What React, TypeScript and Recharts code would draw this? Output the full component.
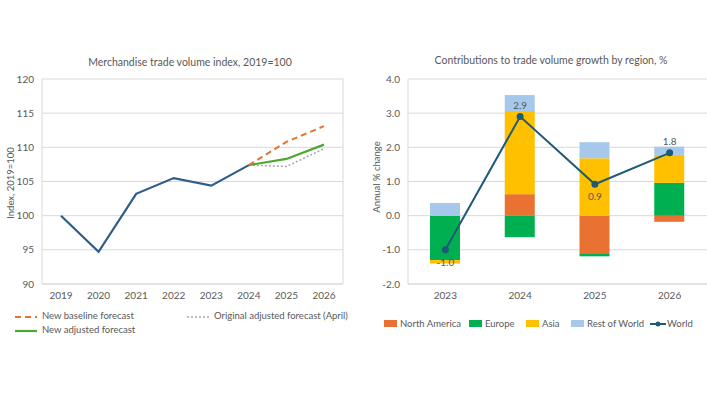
import {
	Bar,
	CartesianGrid,
	ComposedChart,
	LabelList,
	Line,
	LineChart,
	XAxis,
	YAxis,
} from "recharts";

// left panel: merchandise trade volume index
const years = ["2019", "2020", "2021", "2022", "2023", "2024", "2025", "2026"];
const actual = [100, 94.7, 103.2, 105.5, 104.4, 107.4, null, null];
const baseline = [null, null, null, null, null, 107.4, 110.8, 113.1];
const originalAdjusted = [null, null, null, null, null, 107.4, 107.2, 109.8];
const newAdjusted = [null, null, null, null, null, 107.4, 108.3, 110.4];
const indexTicks = [90, 95, 100, 105, 110, 115, 120];

// right panel: contributions by region
const regionYears = ["2023", "2024", "2025", "2026"];
const northAmerica = [0, 0.63, -1.12, -0.18];
const europe = [-1.3, -0.63, -0.07, 0.96];
const asia = [-0.1, 2.43, 1.68, 0.82];
const restOfWorld = [0.37, 0.47, 0.47, 0.24];
const world = [-1.0, 2.9, 0.92, 1.84];
const growthTicks = [-2, -1, 0, 1, 2, 3, 4];

const FONT = "Lato, 'Open Sans', sans-serif";
const TEXT = "#595959";
const GRID = "#d9d9d9";

const indexData = years.map((y, i) => ({
	year: y,
	actual: actual[i],
	baseline: baseline[i],
	originalAdjusted: originalAdjusted[i],
	newAdjusted: newAdjusted[i],
}));

const regionData = regionYears.map((y, i) => ({
	year: y,
	northAmerica: northAmerica[i],
	europe: europe[i],
	asia: asia[i],
	restOfWorld: restOfWorld[i],
	world: world[i],
}));

const tick = { fill: TEXT, fontSize: 10, fontFamily: FONT };

// label above local peaks, below valleys
function WorldLabel(props: any) {
	const { x, y, index } = props;
	const v = world[index];
	const prev = index > 0 ? world[index - 1] : null;
	const next = index < world.length - 1 ? world[index + 1] : null;
	const above =
		(prev === null || v >= prev) && (next === null || v >= next);
	return (
		<text
			x={x}
			y={above ? y - 8 : y + 16}
			textAnchor="middle"
			fill={TEXT}
			fontSize={10}
			fontFamily={FONT}
		>
			{v.toFixed(1)}
		</text>
	);
}

function Swatch({ color }: { color: string }) {
	return (
		<span
			style={{
				display: "inline-block",
				width: 13,
				height: 7,
				background: color,
				marginRight: 3,
			}}
		/>
	);
}

function LineKey({ color, dash, width }: { color: string; dash?: string; width: number }) {
	return (
		<svg width={24} height={8} style={{ marginRight: 4, verticalAlign: "middle" }}>
			<line x1={1} y1={4} x2={23} y2={4} stroke={color} strokeWidth={width} strokeDasharray={dash} />
		</svg>
	);
}

export default function App() {
	const legendText = { fontSize: 9.5, color: TEXT, fontFamily: FONT, whiteSpace: "nowrap" as const };
	return (
		<div
			style={{
				position: "absolute",
				left: 0,
				top: 0,
				width: 707,
				height: 398,
				background: "#fff",
				fontFamily: FONT,
			}}
		>
			{/* left chart */}
			<div style={{ position: "absolute", left: 0, top: 56, width: 355, textAlign: "center", ...legendText, fontSize: 10.5, paddingLeft: 25, boxSizing: "border-box" }}>
				Merchandise trade volume index, 2019=100
			</div>
			<div style={{ position: "absolute", left: 10, top: 183, ...legendText, fontSize: 9.5, transform: "translate(-50%,-50%) rotate(-90deg)" }}>
				Index, 2019=100
			</div>
			<div style={{ position: "absolute", left: 0, top: 0 }}>
				<LineChart
					width={355}
					height={398}
					data={indexData}
					margin={{ top: 79, right: 0, bottom: 94, left: 12 }}
				>
					<CartesianGrid vertical={false} stroke={GRID} />
					<XAxis
						dataKey="year"
						tick={tick}
						tickLine={false}
						axisLine={{ stroke: GRID }}
						padding={{ left: 19, right: 19 }}
						height={20}
					/>
					<YAxis
						domain={[90, 120]}
						ticks={indexTicks}
						tick={tick}
						tickLine={false}
						axisLine={{ stroke: GRID }}
						width={30}
					/>
					<YAxis
						yAxisId="r"
						orientation="right"
						domain={[90, 120]}
						tick={false}
						tickLine={false}
						axisLine={{ stroke: GRID }}
						width={12}
					/>
					<Line dataKey="originalAdjusted" stroke="#a6a6a6" strokeWidth={1.5} strokeDasharray="2 2" dot={false} isAnimationActive={false} />
					<Line dataKey="newAdjusted" stroke="#4ea72e" strokeWidth={2.2} dot={false} isAnimationActive={false} />
					<Line dataKey="baseline" stroke="#e97132" strokeWidth={2} strokeDasharray="6 4" dot={false} isAnimationActive={false} />
					<Line dataKey="actual" stroke="#2f5d8a" strokeWidth={2.2} dot={false} isAnimationActive={false} />
				</LineChart>
			</div>
			<div style={{ position: "absolute", left: 14, top: 310, ...legendText }}>
				<LineKey color="#e97132" dash="6 4" width={2} />New baseline forecast
			</div>
			<div style={{ position: "absolute", left: 186, top: 310, ...legendText }}>
				<LineKey color="#a6a6a6" dash="2 2" width={1.5} />Original adjusted forecast (April)
			</div>
			<div style={{ position: "absolute", left: 14, top: 324, ...legendText }}>
				<LineKey color="#4ea72e" width={2.2} />New adjusted forecast
			</div>

			{/* right chart */}
			<div style={{ position: "absolute", left: 355, top: 54, width: 352, textAlign: "center", ...legendText, fontSize: 10.5, paddingLeft: 40, boxSizing: "border-box" }}>
				Contributions to trade volume growth by region, %
			</div>
			<div style={{ position: "absolute", left: 376, top: 177, ...legendText, fontSize: 9.5, transform: "translate(-50%,-50%) rotate(-90deg)" }}>
				Annual % change
			</div>
			<div style={{ position: "absolute", left: 355, top: 0 }}>
				<ComposedChart
					width={352}
					height={398}
					data={regionData}
					stackOffset="sign"
					margin={{ top: 79, right: 0, bottom: 94, left: 23 }}
				>
					<CartesianGrid vertical={false} stroke={GRID} />
					<XAxis
						dataKey="year"
						tick={tick}
						tickLine={false}
						axisLine={{ stroke: GRID }}
						height={20}
					/>
					<YAxis
						domain={[-2, 4]}
						ticks={growthTicks}
						tick={tick}
						tickFormatter={(v: number) => v.toFixed(1)}
						tickLine={false}
						axisLine={{ stroke: GRID }}
						width={30}
					/>
					<Bar dataKey="northAmerica" stackId="s" fill="#e97132" barSize={30} isAnimationActive={false} />
					<Bar dataKey="europe" stackId="s" fill="#00b050" barSize={30} isAnimationActive={false} />
					<Bar dataKey="asia" stackId="s" fill="#ffc000" barSize={30} isAnimationActive={false} />
					<Bar dataKey="restOfWorld" stackId="s" fill="#a6c8ea" barSize={30} isAnimationActive={false} />
					<Line
						dataKey="world"
						stroke="#1f5a78"
						strokeWidth={2}
						dot={{ r: 2.5, fill: "#1f5a78", stroke: "#1f5a78" }}
						isAnimationActive={false}
					>
						<LabelList dataKey="world" content={<WorldLabel />} />
					</Line>
				</ComposedChart>
			</div>
			<div style={{ position: "absolute", left: 384, top: 318, ...legendText }}>
				<Swatch color="#e97132" />North America
			</div>
			<div style={{ position: "absolute", left: 469, top: 318, ...legendText }}>
				<Swatch color="#00b050" />Europe
			</div>
			<div style={{ position: "absolute", left: 526, top: 318, ...legendText }}>
				<Swatch color="#ffc000" />Asia
			</div>
			<div style={{ position: "absolute", left: 571, top: 318, ...legendText }}>
				<Swatch color="#a6c8ea" />Rest of World
			</div>
			<div style={{ position: "absolute", left: 650, top: 318, display: "flex", alignItems: "center", ...legendText }}>
				<svg width={16} height={8} style={{ marginRight: 1 }}>
					<line x1={0} y1={4} x2={16} y2={4} stroke="#1f5a78" strokeWidth={2} />
					<circle cx={8} cy={4} r={2.5} fill="#1f5a78" />
				</svg>
				World
			</div>
		</div>
	);
}
